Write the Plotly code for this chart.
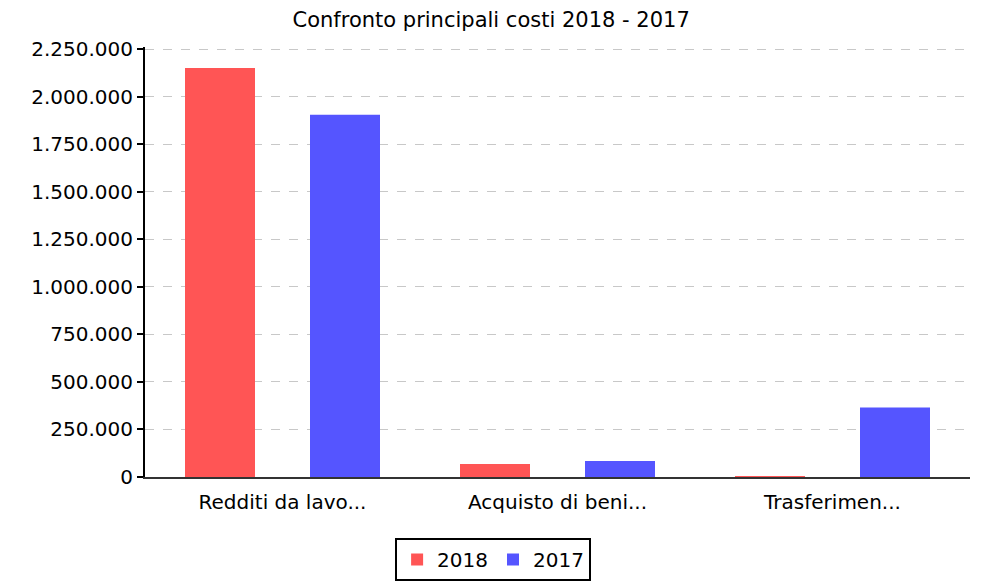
import plotly.graph_objects as go

categories = ["Redditi da lavo...", "Acquisto di beni...", "Trasferimen..."]
values_2018 = [2152000, 68000, 400]
values_2017 = [1905000, 84000, 366000]
tick_vals = [0, 250000, 500000, 750000, 1000000, 1250000, 1500000, 1750000, 2000000, 2250000]

fig = go.Figure()
fig.add_trace(go.Bar(name="2018", x=categories, y=values_2018, marker=dict(color="#FF5555", line=dict(width=0))))
fig.add_trace(go.Bar(name="2017", x=categories, y=values_2017, marker=dict(color="#5555FF", line=dict(width=0))))

# page body has an 8px margin, so the figure is laid out shifted by -8px
fig.update_layout(
    width=982, height=581,
    margin=dict(l=137, r=20, t=39, b=112, autoexpand=False),
    paper_bgcolor="white", plot_bgcolor="white",
    font=dict(family="DejaVu Sans", size=20, color="black"),
    separators=",.",
    title=dict(text="Confronto principali costi 2018 - 2017", x=0.492, xanchor="center",
               y=1 - 12 / 581, yanchor="middle", font=dict(size=21)),
    barmode="group", bargap=0.0909, bargroupgap=0.44,
    showlegend=True,
    legend=dict(orientation="h", xref="container", x=0.494, xanchor="center",
                yref="container", y=(581 - 530) / 581, yanchor="top",
                bordercolor="black", borderwidth=2, font=dict(size=20),
                itemsizing="constant"),
)
fig.update_yaxes(range=[0, 2262000], tickvals=tick_vals, tickformat=",.0f", automargin=False,
                 showgrid=True, gridcolor="#C8C8C8", griddash="dash", gridwidth=1,
                 showline=True, linecolor="black", linewidth=2,
                 ticks="outside", ticklen=6, tickwidth=2, tickcolor="black",
                 zeroline=False)
fig.update_xaxes(showline=True, linecolor="#333333", linewidth=2, ticks="", automargin=False,
                 ticklabelstandoff=6, showgrid=False, tickfont=dict(size=20))

fig.write_html("out.html")
